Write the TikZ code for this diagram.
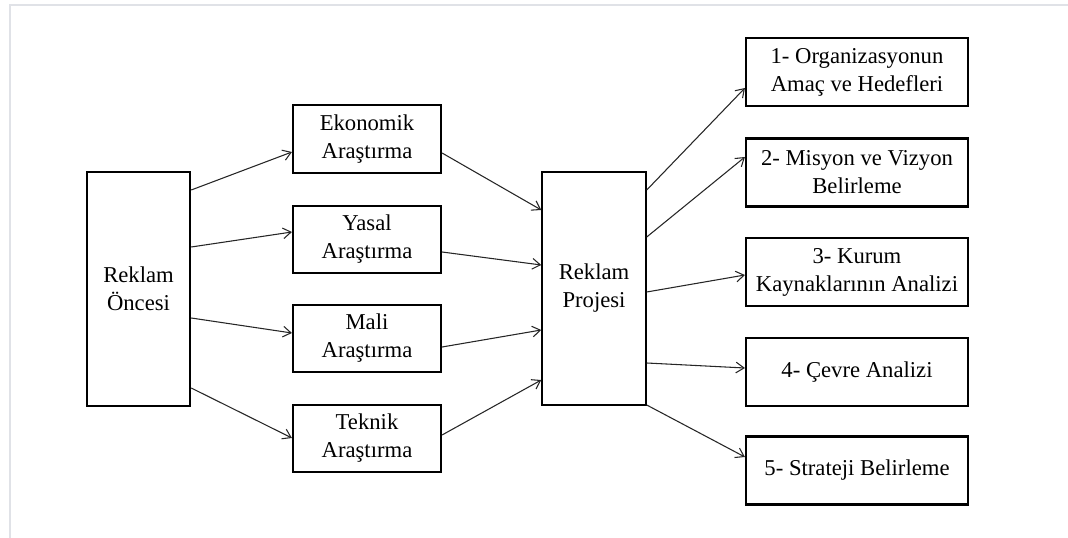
\documentclass[tikz,border=0pt]{standalone}
\usepackage{fontspec}
\setmainfont{Liberation Serif}
\usetikzlibrary{arrows.meta}
\definecolor{framegray}{RGB}{224,226,231}

\begin{document}
\begin{tikzpicture}[x=0.75pt,y=-0.75pt,
        box/.style={shape=rectangle,draw=black,line width=1.6pt,align=center,inner sep=2pt,
            font=\fontsize{17}{21}\selectfont},
        tall/.style={box,minimum width=77.5pt,minimum height=175pt},
        mid/.style={box,minimum width=111pt,minimum height=50.5pt},
        goal/.style={box,minimum width=166.5pt,minimum height=51pt},
        arr/.style={-{Straight Barb[length=6pt,width=8pt]},line width=0.8pt,draw=black!85}]
        \useasboundingbox (0,0) rectangle (1068,538);
        %frame
        \draw[framegray,line width=1.5pt] (10,538) -- (10,5) -- (1068,5);
        %left and centre
        \node[tall] (oncesi) at (138.5,289)     {Reklam\\Öncesi};
        \node[tall] (projesi) at (594,288.5)    {Reklam\\Projesi};
        %research boxes
        \node[mid] (ekonomik) at (367,139)      {Ekonomik\\Araştırma};
        \node[mid] (yasal) at (367,239.5)       {Yasal\\Araştırma};
        \node[mid] (mali) at (367,338.5)        {Mali\\Araştırma};
        \node[mid] (teknik) at (367,438.5)      {Teknik\\Araştırma};
        %project steps
        \node[goal] (amac) at (857,72)          {1- Organizasyonun\\Amaç ve Hedefleri};
        \node[goal] (misyon) at (857,172.5)     {2- Misyon ve Vizyon\\Belirleme};
        \node[goal] (kaynak) at (857,272)       {3- Kurum\\Kaynaklarının Analizi};
        \node[goal] (cevre) at (857,372)        {4- Çevre Analizi};
        \node[goal] (strateji) at (857,470.5)   {5- Strateji Belirleme};
        %edges into the research boxes
        \draw[arr] (oncesi.east |- 0,190) -- (ekonomik.west |- 0,152);
        \draw[arr] (oncesi.east |- 0,247) -- (yasal.west |- 0,232);
        \draw[arr] (oncesi.east |- 0,318) -- (mali.west |- 0,333);
        \draw[arr] (oncesi.east |- 0,388) -- (teknik.west |- 0,438);
        %edges into the project
        \draw[arr] (ekonomik.east |- 0,153) -- (projesi.west |- 0,210);
        \draw[arr] (yasal.east |- 0,252) -- (projesi.west |- 0,265);
        \draw[arr] (mali.east |- 0,347) -- (projesi.west |- 0,330);
        \draw[arr] (teknik.east |- 0,435) -- (projesi.west |- 0,380);
        %edges out of the project
        \draw[arr] (projesi.east |- 0,190) -- (amac.west |- 0,88);
        \draw[arr] (projesi.east |- 0,237) -- (misyon.west |- 0,157);
        \draw[arr] (projesi.east |- 0,292) -- (kaynak.west |- 0,275);
        \draw[arr] (projesi.east |- 0,363) -- (cevre.west |- 0,368);
        \draw[arr] (projesi.east |- 0,405) -- (strateji.west |- 0,457);
\end{tikzpicture}
\end{document}
